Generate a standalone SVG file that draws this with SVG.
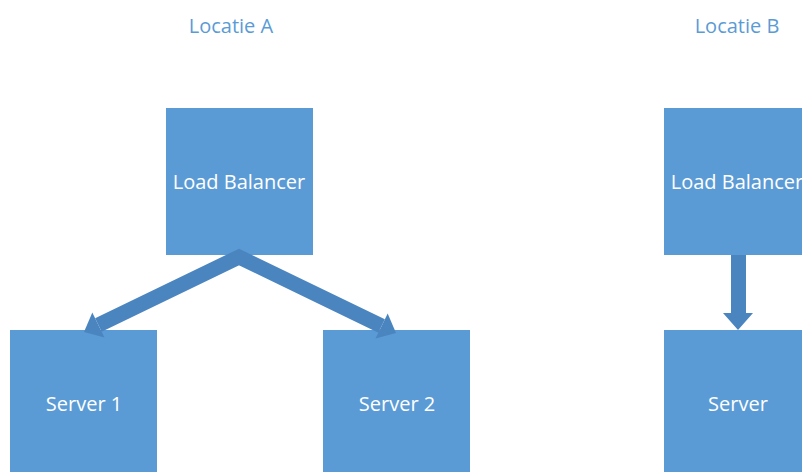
<svg xmlns="http://www.w3.org/2000/svg" width="802" height="472" viewBox="0 0 802 472">
  <style>
    .box { fill: #5b9bd5; }
    .lbl { fill: #ffffff; font-family: "Open Sans", "Liberation Sans", sans-serif; font-size: 20px; text-anchor: middle; }
    .title { fill: #5b9bd5; font-family: "Open Sans", "Liberation Sans", sans-serif; font-size: 20px; text-anchor: middle; }
    .arrow { fill: #4a85c0; }
    .shaft { fill: none; stroke: #4a85c0; stroke-width: 15; stroke-linejoin: miter; stroke-miterlimit: 10; }
  </style>
  <rect width="802" height="472" fill="#ffffff"/>

  <text class="title" x="231" y="33">Locatie A</text>
  <text class="title" x="737" y="33">Locatie B</text>

  <g id="lb-a">
    <rect class="box" x="166" y="108" width="147" height="147"/>
    <text class="lbl" x="239" y="189">Load Balancer</text>
  </g>
  <g id="server-1">
    <rect class="box" x="10" y="330" width="147" height="147"/>
    <text class="lbl" x="84" y="411">Server 1</text>
  </g>
  <g id="server-2">
    <rect class="box" x="323" y="330" width="147" height="147"/>
    <text class="lbl" x="397" y="411">Server 2</text>
  </g>
  <g id="lb-b">
    <rect class="box" x="664" y="108" width="147" height="147"/>
    <text class="lbl" x="737" y="189">Load Balancer</text>
  </g>
  <g id="server-b">
    <rect class="box" x="664" y="330" width="147" height="147"/>
    <text class="lbl" x="738" y="411">Server</text>
  </g>

  <g id="connectors">
    <!-- Locatie A: one bent shaft from the load balancer, a head at each server -->
    <polyline class="shaft" points="98.4,325 239,257 381.6,326"/>
    <polygon class="arrow" points="92.3,312.4 84,332 104.5,337.6"/>
    <polygon class="arrow" points="387.7,313.4 396,333 375.5,338.6"/>
    <!-- Locatie B: load balancer to server -->
    <polygon class="arrow" points="731,255 746,255 746,313 753,313 738,330 723,313 731,313"/>
  </g>
</svg>
